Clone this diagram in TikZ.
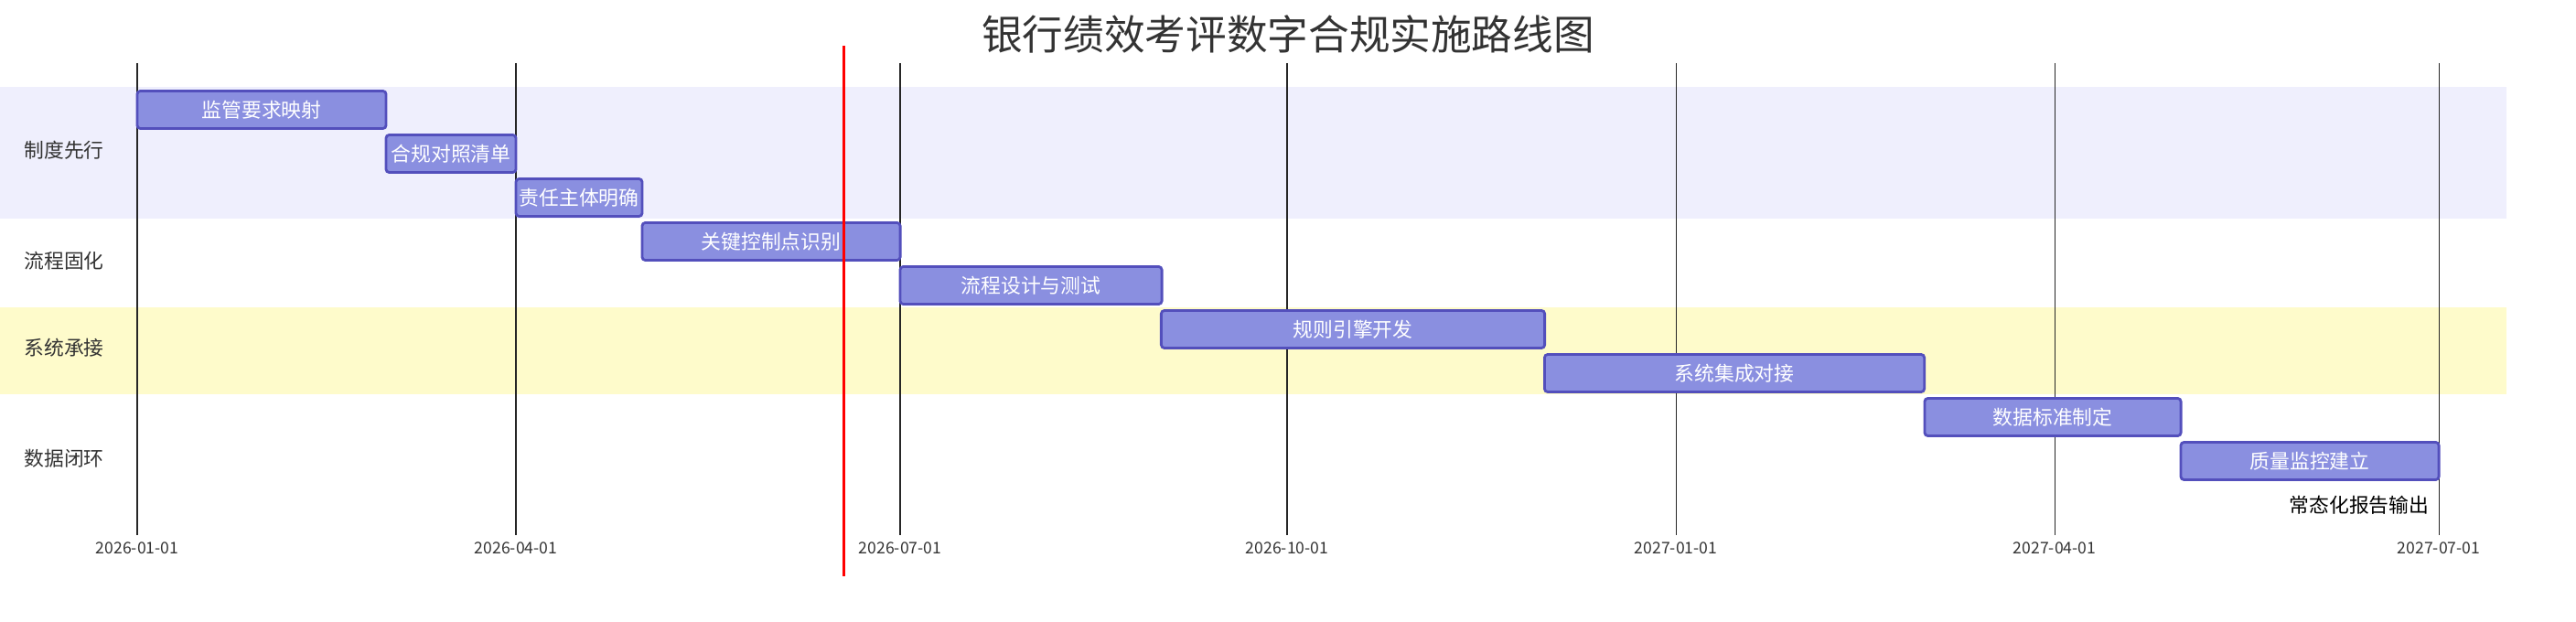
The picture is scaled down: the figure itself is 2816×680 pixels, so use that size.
\documentclass[tikz,border=0pt]{standalone}
\usepackage{fontspec}
\newfontfamily\cjk{Noto Sans CJK SC}
\definecolor{barfill}{HTML}{8A8FE0}
\definecolor{barline}{HTML}{534FBC}
\definecolor{bandA}{HTML}{EFEFFD}
\definecolor{bandB}{HTML}{FEFBCB}
\begin{document}
\begin{tikzpicture}
    [
        x=0.01cm, y=-0.01cm,
        font=\cjk,
        bar/.style={draw=barline, fill=barfill, line width=0.8pt, rounded corners=1pt,
            minimum height=0.41cm, inner sep=0pt, text=white, font=\cjk\fontsize{6.2}{7}\selectfont},
        lane/.style={anchor=west, font=\cjk\fontsize{6.2}{7}\selectfont, text=black!80},
        datelbl/.style={font=\cjk\fontsize{5}{6}\selectfont, text=black!80, inner sep=2pt},
    ]
    \useasboundingbox (0,0) rectangle (2816,680);

    % lanes
    \fill [bandA] (0,95)  rectangle (2740,239);
    \fill [bandB] (0,336) rectangle (2740,431);
    \node (l1) at (14,164) [lane] {制度先行};
    \node (l2) at (14,285) [lane] {流程固化};
    \node (l3) at (14,380) [lane] {系统承接};
    \node (l4) at (14,501) [lane] {数据闭环};

    % title
    \node (title) at (1408,37) [font=\cjk\fontsize{12.7}{14}\selectfont, text=black!80] {银行绩效考评数字合规实施路线图};

    % time axis
    \foreach \x/\d [count=\i] in {150/2026-01-01, 564/2026-04-01, 984/2026-07-01,
        1407/2026-10-01, 1832/2027-01-01, 2246/2027-04-01, 2666/2027-07-01}
    {
        \coordinate (g\i) at (\x,69);
        \node (d\i) at (\x,599) [datelbl] {\d};
        \draw [black!85, line width=0.3pt] (g\i) -- (d\i.north);
    }

    % tasks
    \node (t1) at (286,120)  [bar, minimum width=2.72cm] {监管要求映射};
    \node (t2) at (493,168)  [bar, minimum width=1.42cm] {合规对照清单};
    \node (t3) at (633,216)  [bar, minimum width=1.38cm] {责任主体明确};
    \node (t4) at (843,264)  [bar, minimum width=2.82cm] {关键控制点识别};
    \node (t5) at (1127,312) [bar, minimum width=2.86cm] {流程设计与测试};
    \node (t6) at (1479,360) [bar, minimum width=4.19cm] {规则引擎开发};
    \node (t7) at (1896,408) [bar, minimum width=4.15cm] {系统集成对接};
    \node (t8) at (2244,456) [bar, minimum width=2.80cm] {数据标准制定};
    \node (t9) at (2525,504) [bar, minimum width=2.82cm] {质量监控建立};
    \node (m1) at (2656,552) [anchor=east, inner sep=0pt, font=\cjk\fontsize{6.2}{7}\selectfont] {常态化报告输出};

    % today
    \coordinate (n1) at (922,50);
    \coordinate (n2) at (922,630);
    \draw [red, line width=0.85pt] (n1) -- (n2);
\end{tikzpicture}
\end{document}
